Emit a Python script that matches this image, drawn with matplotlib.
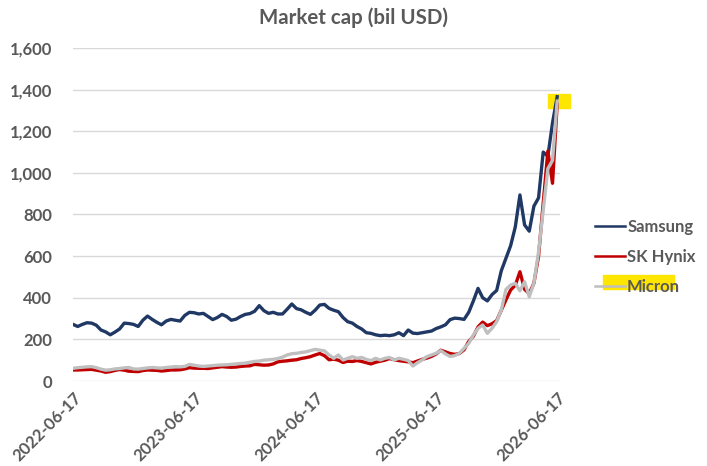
import matplotlib
matplotlib.use("Agg")
import matplotlib.pyplot as plt
import pandas as pd
from matplotlib.patches import Rectangle
from matplotlib.ticker import FuncFormatter

plt.rcParams['font.family'] = ['Lato', 'DejaVu Sans']

# roughly biweekly observations, 2022-06-17 .. 2026-06-17
dates = pd.date_range('2022-06-17', '2026-06-17', periods=105)

samsung = [272, 262, 272, 280, 278, 268, 245, 236, 222, 235,
           250, 278, 276, 272, 262, 292, 312, 296, 282, 270,
           288, 296, 292, 288, 315, 330, 328, 322, 325, 310,
           295, 305, 320, 310, 292, 297, 310, 320, 324, 335,
           362, 338, 325, 330, 322, 322, 345, 370, 348, 342,
           330, 320, 340, 365, 368, 349, 340, 333, 305, 285,
           278, 262, 250, 232, 229, 222, 218, 220, 218, 222,
           232, 218, 245, 230, 228, 232, 236, 240, 252, 260,
           270, 295, 302, 300, 296, 330, 385, 445, 400, 385,
           415, 435, 530, 590, 650, 740, 894, 750, 720, 840,
           880, 1100, 1080, 1240, 1366]

sk_hynix = [53, 53, 54, 55, 56, 52, 48, 42, 45, 51,
            55, 52, 47, 46, 45, 50, 53, 52, 51, 48,
            50, 53, 53, 54, 58, 64, 62, 61, 61, 60,
            63, 66, 69, 67, 66, 67, 70, 72, 73, 80,
            78, 76, 77, 82, 92, 95, 97, 100, 102, 108,
            112, 117, 125, 132, 122, 102, 105, 100, 89, 95,
            94, 98, 94, 88, 82, 90, 95, 100, 108, 102,
            98, 95, 92, 88, 96, 104, 110, 118, 130, 148,
            140, 132, 128, 132, 150, 190, 215, 260, 283, 266,
            275, 290, 340, 390, 437, 460, 525, 440, 420, 470,
            600, 854, 1105, 950, 1330]

micron = [61, 64, 66, 68, 69, 64, 57, 52, 54, 58,
          60, 63, 65, 58, 57, 60, 63, 65, 63, 62,
          65, 67, 69, 68, 70, 80, 76, 72, 70, 72,
          74, 76, 77, 78, 80, 82, 84, 86, 90, 94,
          96, 100, 102, 104, 108, 115, 125, 131, 133, 137,
          140, 146, 152, 148, 145, 125, 109, 125, 101, 109,
          117, 109, 113, 104, 98, 109, 101, 109, 113, 101,
          109, 104, 98, 72, 88, 101, 117, 125, 133, 146,
          130, 118, 122, 133, 157, 181, 221, 253, 269, 229,
          253, 285, 341, 440, 461, 469, 433, 477, 405, 470,
          620, 820, 1020, 1060, 1345]

tick_dates = ['2022-06-17', '2023-06-17', '2024-06-17', '2025-06-17', '2026-06-17']

txt = '#595959'

fig = plt.figure(figsize=(7.07, 4.66), dpi=100)
ax = fig.add_axes([0.1033, 0.1824, 0.689, 0.7146])

ax.plot(dates, samsung, color='#203864', lw=2.4, label='Samsung', zorder=3)
ax.plot(dates, sk_hynix, color='#C00000', lw=2.4, label='SK Hynix', zorder=3)
ax.plot(dates, micron, color='#BFBFBF', lw=2.4, label='Micron', zorder=4)

ax.set_ylim(0, 1600)
ax.set_yticks(range(0, 1601, 200))
ax.yaxis.set_major_formatter(FuncFormatter(lambda v, p: f'{int(v):,}'))
ax.set_xlim(dates[0], dates[-1] + pd.Timedelta(days=9))
ax.set_xticks(pd.to_datetime(tick_dates))
ax.set_xticklabels(tick_dates, rotation=45, ha='right', rotation_mode='anchor')

ax.grid(axis='y', color='#D9D9D9', lw=1)
ax.set_axisbelow(True)
for s in ax.spines.values():
    s.set_visible(False)
ax.tick_params(length=0, colors=txt, labelsize=12)
ax.tick_params(axis='y', pad=15)
ax.tick_params(axis='x', pad=6)
for lbl in ax.get_xticklabels() + ax.get_yticklabels():
    lbl.set_fontweight('bold')

# yellow highlight at the latest value
ax.add_patch(Rectangle((dates[-1] - pd.Timedelta(days=27), 1312), pd.Timedelta(days=66), 68,
                       color='#FFE600', zorder=2, clip_on=False))

leg = ax.legend(loc='center left', bbox_to_anchor=(0.821, 0.449), bbox_transform=fig.transFigure,
                frameon=False, handlelength=1.75, handletextpad=0.15, labelspacing=0.85,
                prop={'weight': 'bold', 'size': 12})
for t in leg.get_texts():
    t.set_color(txt)
for h in leg.legend_handles:
    h.set_linewidth(1.8)

# yellow highlight behind the Micron legend entry
fig.patches.append(Rectangle((603 / 707, 1 - 289 / 466), 71 / 707, 14 / 466,
                             transform=fig.transFigure, color='#FFE600', zorder=-1))

fig.text(0.5, 0.963, 'Market cap (bil USD)', ha='center', va='center',
         fontsize=14.8, fontweight='bold', color=txt)

fig.savefig('out.png', dpi=100)
